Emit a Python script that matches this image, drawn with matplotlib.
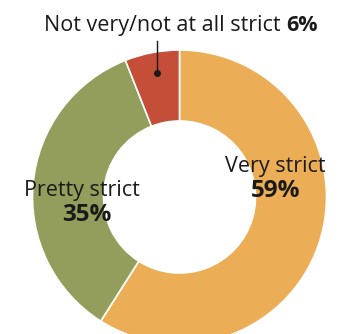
import matplotlib
matplotlib.use("Agg")
import matplotlib.pyplot as plt

labels = ["Very strict", "Pretty strict", "Not very/not at all strict"]
shares = [59, 35, 6]
colors = ["#EBAE56", "#949E5C", "#C44E37"]

W, H = 340, 334
plt.rcParams['font.family'] = ['Open Sans', 'DejaVu Sans']

fig = plt.figure(figsize=(W / 100, H / 100), dpi=100)
ax = fig.add_axes([0, 0, 1, 1])

cx, cy = 179.5, H - 197
r_out, r_in = 147, 76
ax.pie(shares, colors=colors, startangle=90, counterclock=False,
       center=(cx, cy), radius=r_out, frame=True,
       wedgeprops=dict(width=r_out - r_in, edgecolor='white', linewidth=1.2))
ax.set_xlim(0, W)
ax.set_ylim(0, H)
ax.axis('off')

fs = 15.5
fs_pct = 17.5
ink = '#1a1a1a'

# leader line for the small slice
ax.plot([157, 157], [H - 73, H - 41], color=ink, lw=1)
ax.plot([157], [H - 73], 'o', color=ink, ms=4)
txt = ax.text(44, H - 31, labels[2] + " ", fontsize=fs, ha='left',
              va='baseline', color=ink)
fig.canvas.draw()
bb = txt.get_window_extent().transformed(ax.transData.inverted())
ax.text(bb.x1, H - 31, f"{shares[2]}%", fontsize=fs, fontweight='bold',
        ha='left', va='baseline', color=ink)

ax.text(275, H - 172, labels[0], fontsize=fs, ha='center', va='baseline',
        color=ink)
ax.text(276, H - 197, f"{shares[0]}%", fontsize=fs_pct, fontweight='bold',
        ha='center', va='baseline', color=ink)
ax.text(82, H - 196, labels[1], fontsize=fs, ha='center', va='baseline',
        color=ink)
ax.text(87, H - 221, f"{shares[1]}%", fontsize=fs_pct, fontweight='bold',
        ha='center', va='baseline', color=ink)

fig.savefig("out.png", dpi=100)
